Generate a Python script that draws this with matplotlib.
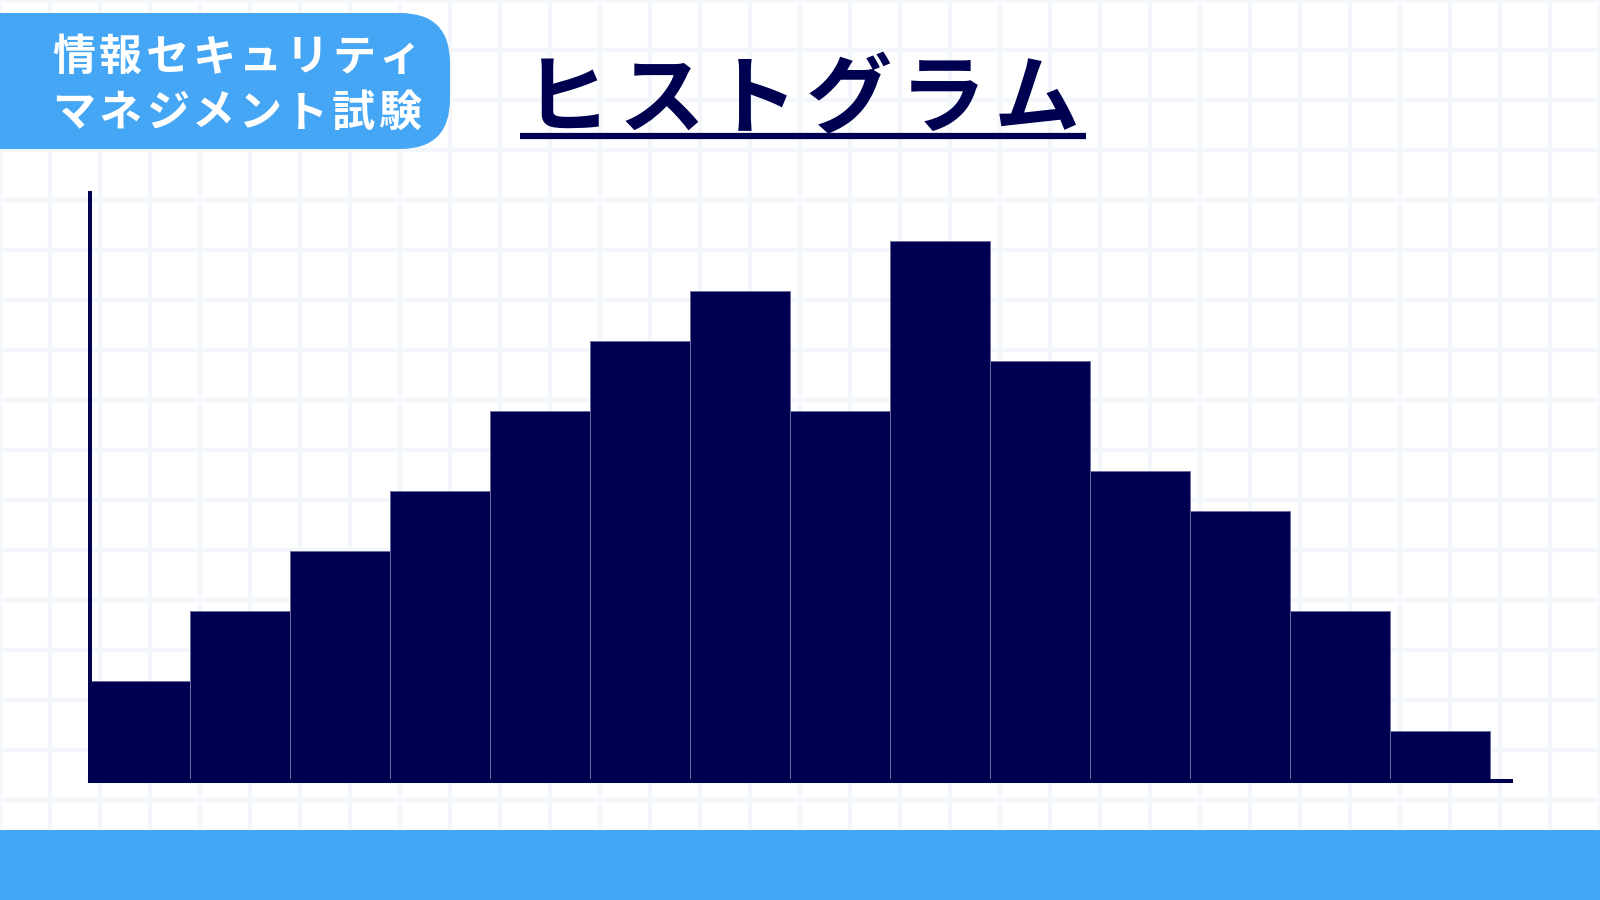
import numpy as np
import matplotlib
matplotlib.use("Agg")
import matplotlib.pyplot as plt
from matplotlib.patches import FancyBboxPatch, Rectangle

# histogram data (frequency per class)
bin_edges = list(range(0, 15))
counts = [10, 17, 23, 29, 37, 44, 49, 37, 54, 42, 31, 27, 17, 5]

title_text = "ヒストグラム"
badge_lines = ["情報セキュリティ", "マネジメント試験"]

NAVY = "#000050"
BLUE = "#44a6f5"
GRID = "#f3f6fa"

plt.rcParams['font.family'] = ['Noto Sans CJK JP', 'DejaVu Sans']


def spaced_text(ax, x0, y, text, pitch, **kw):
    # matplotlib has no letter spacing, so lay the glyphs out one by one
    for i, ch in enumerate(text):
        ax.text(x0 + i * pitch, y, ch, **kw)


def draw_background(fig):
    # full-figure axes in pixel units, y pointing down
    bg = fig.add_axes([0, 0, 1, 1])
    bg.set_xlim(0, 1600)
    bg.set_ylim(900, 0)
    bg.set_xticks(np.arange(0, 1601, 50))
    bg.set_yticks(np.arange(0, 901, 50))
    bg.grid(True, color=GRID, linewidth=2.9)
    bg.tick_params(length=0, labelbottom=False, labelleft=False)
    for s in bg.spines.values():
        s.set_visible(False)
    bg.set_axisbelow(True)
    return bg


def draw_header(bg):
    # badge in the top left corner
    badge = FancyBboxPatch((-80, 13), 530, 136,
                           boxstyle="round,pad=0,rounding_size=50",
                           facecolor=BLUE, edgecolor="none", zorder=3)
    bg.add_patch(badge)
    pitch = 46.6
    for y, line in zip([57, 113], badge_lines):
        spaced_text(bg, 237 - 3.5 * pitch, y, line, pitch, color="white",
                    fontsize=31, fontweight="bold", ha="center", va="center",
                    zorder=4)

    # title with underline
    spaced_text(bg, 524, 101, title_text, 94, color=NAVY, fontsize=62,
                fontweight="bold", ha="left", va="center", zorder=4)
    bg.plot([520, 1086], [136, 136], color=NAVY, linewidth=4.5,
            solid_capstyle="butt", zorder=4)

    # bottom band
    bg.add_patch(Rectangle((0, 830), 1600, 70, facecolor="#42a5f5",
                           edgecolor="none", zorder=3))


def draw_histogram(fig):
    ax = fig.add_axes([90 / 1600, (900 - 781) / 900,
                       (1511 - 90) / 1600, (781 - 193) / 900])
    ax.patch.set_alpha(0)
    ax.bar(bin_edges[:-1], counts, width=1, align="edge",
           color=NAVY, edgecolor="#6e6ea0", linewidth=0.7)
    ax.set_xlim(0, 14.21)
    ax.set_ylim(0, 58.8)
    ax.set_xticks([])
    ax.set_yticks([])
    ax.spines["top"].set_visible(False)
    ax.spines["right"].set_visible(False)
    for side in ["left", "bottom"]:
        ax.spines[side].set_color(NAVY)
        ax.spines[side].set_linewidth(2.9)


def main():
    fig = plt.figure(figsize=(16, 9), dpi=100)
    fig.patch.set_facecolor("white")
    bg = draw_background(fig)
    draw_header(bg)
    draw_histogram(fig)
    fig.savefig("out.png", dpi=100)


if __name__ == "__main__":
    main()
